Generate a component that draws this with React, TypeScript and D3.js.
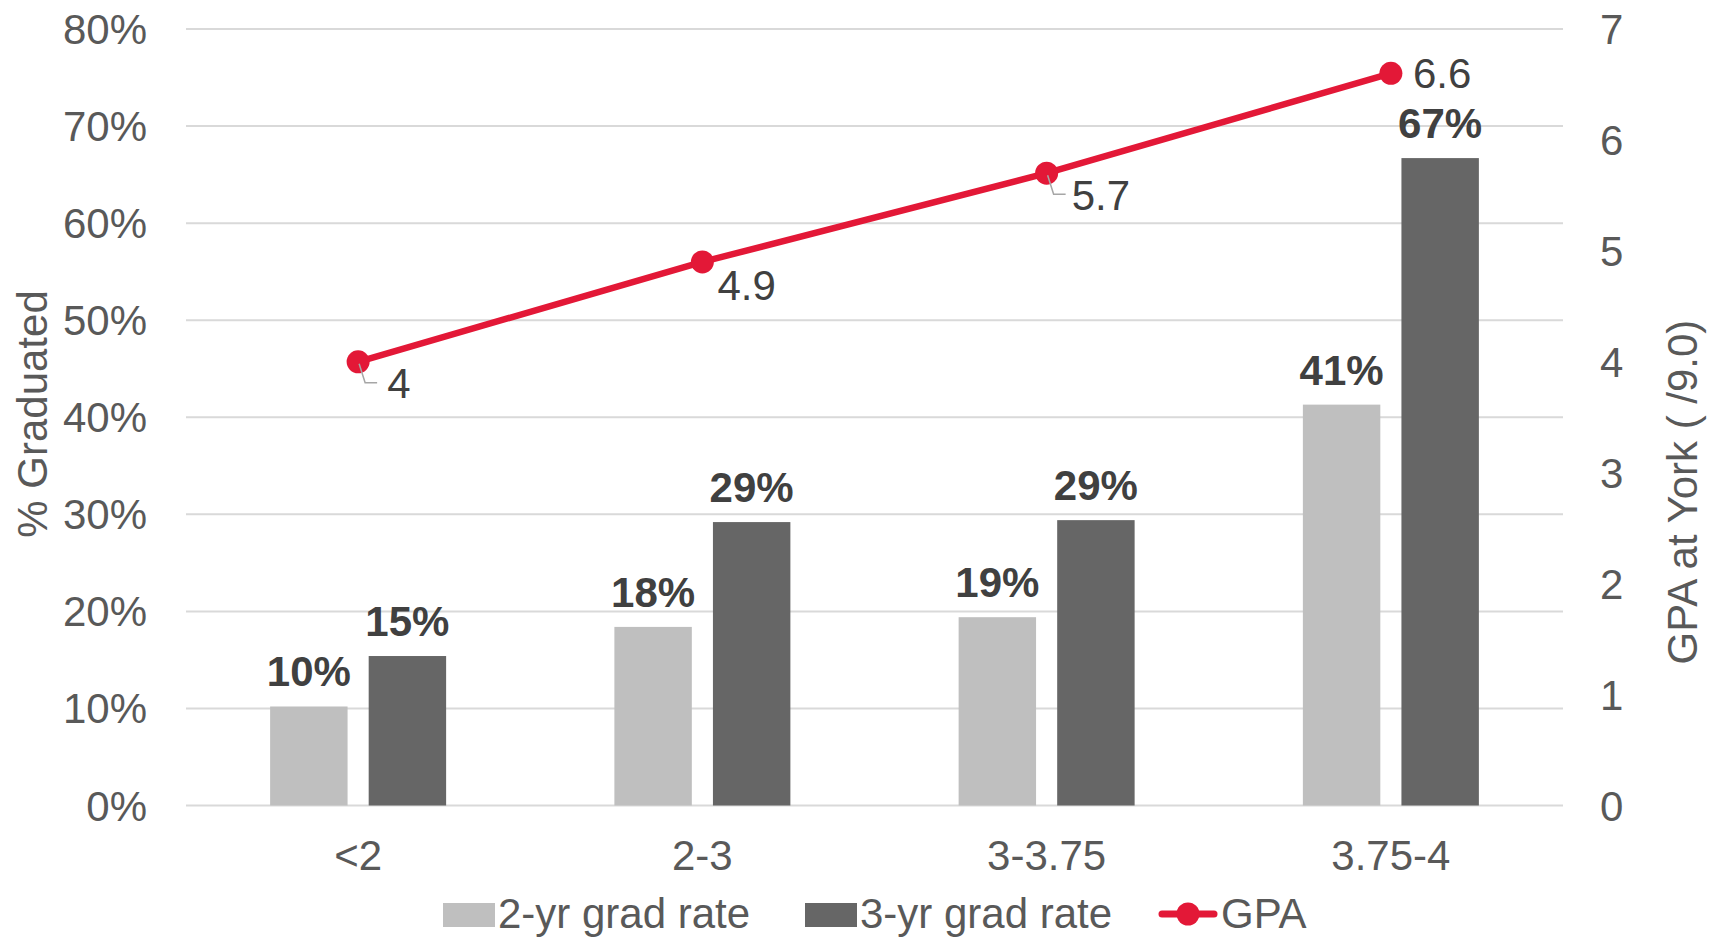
import React from "react";
import * as d3 from "d3";

const categories = ["<2", "2-3", "3-3.75", "3.75-4"];
const series = ["2-yr grad rate", "3-yr grad rate"];
const twoYear = [0.102, 0.184, 0.194, 0.413];
const threeYear = [0.154, 0.292, 0.294, 0.667];
const gpa = [4.0, 4.9, 5.7, 6.6];
const leftTicks = [0, 0.1, 0.2, 0.3, 0.4, 0.5, 0.6, 0.7, 0.8];
const rightTicks = [0, 1, 2, 3, 4, 5, 6, 7];

const W = 1717;
const H = 938;
const FONT = "'Liberation Sans', Arial, Helvetica, sans-serif";
const RED = "#E31837";
const BAR_COLORS = ["#BFBFBF", "#666666"];
const GPA_LABEL_OFFSETS = [
  { dx: 29, dy: 36, leader: true },
  { dx: 15, dy: 38, leader: false },
  { dx: 25, dy: 37, leader: true },
  { dx: 22, dy: 15, leader: false },
];

export default function App() {
  const left = 186;
  const right = 1563;
  const top = 29;
  const bottom = 805.5;

  const x0 = d3.scaleBand<string>().domain(categories).range([left, right]).padding(0);
  const groupW = 176;
  const x1 = d3
    .scaleBand<string>()
    .domain(series)
    .range([0, groupW])
    .paddingInner(21 / 98)
    .paddingOuter(0);
  const yL = d3.scaleLinear().domain([0, 0.8]).range([bottom, top]);
  const yR = d3.scaleLinear().domain([0, 7]).range([bottom, top]);

  const cx = (c: string) => (x0(c) as number) + x0.bandwidth() / 2;
  const values = [twoYear, threeYear];

  const line = d3
    .line<number>()
    .x((_, i) => cx(categories[i]))
    .y((d) => yR(d));

  const fmtPct = d3.format(".0%");

  return (
    <svg
      width={W}
      height={H}
      style={{ position: "absolute", left: 0, top: 0, background: "#fff" }}
      fontFamily={FONT}
    >
      {leftTicks.map((t) => (
        <line
          key={"g" + t}
          x1={left}
          x2={right}
          y1={yL(t)}
          y2={yL(t)}
          stroke="#D9D9D9"
          strokeWidth={2}
        />
      ))}
      {leftTicks.map((t) => (
        <text
          key={"lt" + t}
          x={147}
          y={yL(t) + 15}
          textAnchor="end"
          fontSize={42}
          fill="#595959"
        >
          {fmtPct(t)}
        </text>
      ))}
      {rightTicks.map((t) => (
        <text key={"rt" + t} x={1600} y={yR(t) + 15} fontSize={42} fill="#595959">
          {t}
        </text>
      ))}
      <text
        transform={`translate(47,414) rotate(-90)`}
        textAnchor="middle"
        fontSize={42}
        fill="#595959"
      >
        % Graduated
      </text>
      <text
        transform={`translate(1697,492) rotate(-90)`}
        textAnchor="middle"
        fontSize={42}
        fill="#595959"
      >
        GPA at York ( /9.0)
      </text>
      {categories.map((c, ci) => {
        const gx = cx(c) - groupW / 2;
        return (
          <g key={"b" + c}>
            {series.map((s, si) => {
              const v = values[si][ci];
              const bx = gx + (x1(s) as number);
              const by = yL(v);
              return (
                <g key={s}>
                  <rect
                    x={bx}
                    y={by}
                    width={x1.bandwidth()}
                    height={bottom - by}
                    fill={BAR_COLORS[si]}
                  />
                  <text
                    x={bx + x1.bandwidth() / 2}
                    y={by - 20}
                    textAnchor="middle"
                    fontSize={42}
                    fontWeight="bold"
                    fill="#404040"
                  >
                    {fmtPct(v)}
                  </text>
                </g>
              );
            })}
          </g>
        );
      })}
      {categories.map((c) => (
        <text
          key={"c" + c}
          x={cx(c)}
          y={870}
          textAnchor="middle"
          fontSize={42}
          fill="#595959"
        >
          {c}
        </text>
      ))}
      <path d={line(gpa) || ""} fill="none" stroke={RED} strokeWidth={6.5} />
      {gpa.map((g, i) => {
        const px = cx(categories[i]);
        const py = yR(g);
        const o = GPA_LABEL_OFFSETS[i];
        return (
          <g key={"p" + i}>
            <circle cx={px} cy={py} r={11.5} fill={RED} />
            {o.leader && (
              <polyline
                points={`${px + 1},${py + 2} ${px + 7},${py + 21} ${px + 19},${py + 21}`}
                fill="none"
                stroke="#A6A6A6"
                strokeWidth={1.5}
              />
            )}
            <text x={px + o.dx} y={py + o.dy} fontSize={42} fill="#404040">
              {String(g)}
            </text>
          </g>
        );
      })}
      <rect x={443} y={903} width={52} height={24} fill={BAR_COLORS[0]} />
      <text x={498} y={928} fontSize={42} fill="#595959">
        {series[0]}
      </text>
      <rect x={805} y={903} width={52} height={24} fill={BAR_COLORS[1]} />
      <text x={860} y={928} fontSize={42} fill="#595959">
        {series[1]}
      </text>
      <line
        x1={1162}
        x2={1214}
        y1={914}
        y2={914}
        stroke={RED}
        strokeWidth={7}
        strokeLinecap="round"
      />
      <circle cx={1188} cy={914} r={11.5} fill={RED} />
      <text x={1221} y={928} fontSize={42} fill="#595959">
        GPA
      </text>
    </svg>
  );
}
